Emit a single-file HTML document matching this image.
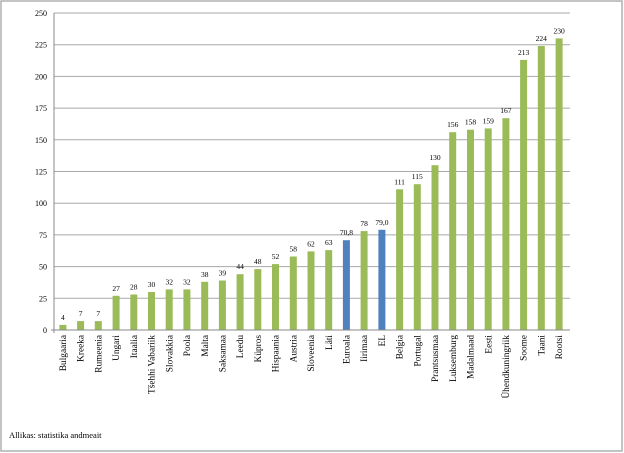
<!DOCTYPE html>
<html><head><meta charset="utf-8"><style>
html,body{margin:0;padding:0;background:#fff}
svg{display:block;font-family:"Liberation Serif",serif}
.v{font-size:7.5px;text-anchor:middle}
.c{font-size:9.3px;text-anchor:end}
.y{font-size:8px;text-anchor:end}
</style></head><body>
<svg width="624" height="453" viewBox="0 0 624 453">
<rect x="1" y="1" width="621" height="450" fill="#fff" stroke="#b0b0b0" stroke-width="1.5"/>
<g stroke="#a8a8a8" stroke-width="1">
<line x1="54" x2="570" y1="13" y2="13"/><line x1="54" x2="570" y1="44.7" y2="44.7"/><line x1="54" x2="570" y1="76.4" y2="76.4"/><line x1="54" x2="570" y1="108.1" y2="108.1"/><line x1="54" x2="570" y1="139.8" y2="139.8"/><line x1="54" x2="570" y1="171.5" y2="171.5"/><line x1="54" x2="570" y1="203.2" y2="203.2"/><line x1="54" x2="570" y1="234.9" y2="234.9"/><line x1="54" x2="570" y1="266.6" y2="266.6"/><line x1="54" x2="570" y1="298.3" y2="298.3"/>
</g>
<g class="y">
<text x="47" y="16">250</text><text x="47" y="47.7">225</text><text x="47" y="79.4">200</text><text x="47" y="111.1">175</text><text x="47" y="142.8">150</text><text x="47" y="174.5">125</text><text x="47" y="206.2">100</text><text x="47" y="237.9">75</text><text x="47" y="269.6">50</text><text x="47" y="301.3">25</text><text x="47" y="333">0</text>
</g>
<g fill="#9bbb59">
<rect x="59.4" y="324.9" width="7" height="5.1"/><rect x="77.1" y="321.1" width="7" height="8.9"/><rect x="94.8" y="321.1" width="7" height="8.9"/><rect x="112.6" y="295.8" width="7" height="34.2"/><rect x="130.3" y="294.5" width="7" height="35.5"/><rect x="148" y="292" width="7" height="38"/><rect x="165.7" y="289.4" width="7" height="40.6"/><rect x="183.4" y="289.4" width="7" height="40.6"/><rect x="201.2" y="281.8" width="7" height="48.2"/><rect x="218.9" y="280.5" width="7" height="49.5"/><rect x="236.6" y="274.2" width="7" height="55.8"/><rect x="254.3" y="269.1" width="7" height="60.9"/><rect x="272" y="264.1" width="7" height="65.9"/><rect x="289.8" y="256.5" width="7" height="73.5"/><rect x="307.5" y="251.4" width="7" height="78.6"/><rect x="325.2" y="250.1" width="7" height="79.9"/><rect x="360.6" y="231.1" width="7" height="98.9"/><rect x="396.1" y="189.3" width="7" height="140.7"/><rect x="413.8" y="184.2" width="7" height="145.8"/><rect x="431.5" y="165.2" width="7" height="164.8"/><rect x="449.2" y="132.2" width="7" height="197.8"/><rect x="467" y="129.7" width="7" height="200.3"/><rect x="484.7" y="128.4" width="7" height="201.6"/><rect x="502.4" y="118.2" width="7" height="211.8"/><rect x="520.1" y="59.9" width="7" height="270.1"/><rect x="537.8" y="46" width="7" height="284"/><rect x="555.6" y="38.4" width="7" height="291.6"/>
</g>
<g fill="#4f81bd"><rect x="342.9" y="240.2" width="7" height="89.8"/><rect x="378.4" y="229.8" width="7" height="100.2"/></g>
<line x1="54" x2="54" y1="13" y2="333" stroke="#888"/>
<line x1="51" x2="570" y1="330" y2="330" stroke="#888"/>
<g class="v">
<text x="62.9" y="320">4</text><text x="80.6" y="316">7</text><text x="98.3" y="316">7</text><text x="116.1" y="291">27</text><text x="133.8" y="289.5">28</text><text x="151.5" y="287">30</text><text x="169.2" y="284.4">32</text><text x="186.9" y="284.4">32</text><text x="204.7" y="276.8">38</text><text x="222.4" y="275.5">39</text><text x="240.1" y="269.2">44</text><text x="257.8" y="264.1">48</text><text x="275.5" y="259.1">52</text><text x="293.3" y="251.5">58</text><text x="311" y="246.4">62</text><text x="328.7" y="245.1">63</text><text x="346.4" y="235.2">70,8</text><text x="364.1" y="226.1">78</text><text x="381.9" y="224.8">79,0</text><text x="399.6" y="184.3">111</text><text x="417.3" y="179.2">115</text><text x="435" y="160.2">130</text><text x="452.7" y="127.2">156</text><text x="470.5" y="124.7">158</text><text x="488.2" y="123.4">159</text><text x="505.9" y="113.2">167</text><text x="523.6" y="54.9">213</text><text x="541.3" y="41">224</text><text x="559.1" y="33.4">230</text>
</g>
<g class="c">
<text transform="translate(66,335) rotate(-90)">Bulgaaria</text><text transform="translate(83.7,335) rotate(-90)">Kreeka</text><text transform="translate(101.4,335) rotate(-90)">Rumeenia</text><text transform="translate(119.2,335) rotate(-90)">Ungari</text><text transform="translate(136.9,335) rotate(-90)">Itaalia</text><text transform="translate(154.6,335) rotate(-90)">Tšehhi Vabariik</text><text transform="translate(172.3,335) rotate(-90)">Slovakkia</text><text transform="translate(190,335) rotate(-90)">Poola</text><text transform="translate(207.8,335) rotate(-90)">Malta</text><text transform="translate(225.5,335) rotate(-90)">Saksamaa</text><text transform="translate(243.2,335) rotate(-90)">Leedu</text><text transform="translate(260.9,335) rotate(-90)">Küpros</text><text transform="translate(278.6,335) rotate(-90)">Hispaania</text><text transform="translate(296.4,335) rotate(-90)">Austria</text><text transform="translate(314.1,335) rotate(-90)">Sloveenia</text><text transform="translate(331.8,335) rotate(-90)">Läti</text><text transform="translate(349.5,335) rotate(-90)">Euroala</text><text transform="translate(367.2,335) rotate(-90)">Iirimaa</text><text transform="translate(385,335) rotate(-90)">EL</text><text transform="translate(402.7,335) rotate(-90)">Belgia</text><text transform="translate(420.4,335) rotate(-90)">Portugal</text><text transform="translate(438.1,335) rotate(-90)">Prantsusmaa</text><text transform="translate(455.8,335) rotate(-90)">Luksemburg</text><text transform="translate(473.6,335) rotate(-90)">Madalmaad</text><text transform="translate(491.3,335) rotate(-90)">Eesti</text><text transform="translate(509,335) rotate(-90)">Ühendkuningriik</text><text transform="translate(526.7,335) rotate(-90)">Soome</text><text transform="translate(544.4,335) rotate(-90)">Taani</text><text transform="translate(562.2,335) rotate(-90)">Rootsi</text>
</g>
<text x="9" y="438" style="font-size:8.5px">Allikas: statistika andmeait</text>
</svg>
</body></html>
